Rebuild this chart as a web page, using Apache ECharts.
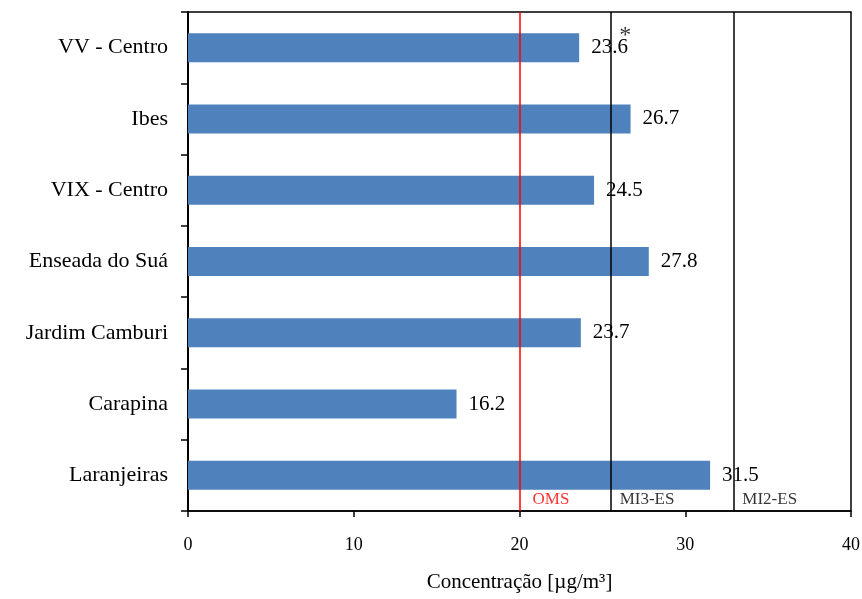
<!DOCTYPE html>
<html><head><meta charset="utf-8">
<script src="https://cdn.jsdelivr.net/npm/echarts@6/dist/echarts.min.js"></script>
<style>html,body{margin:0;padding:0;background:#fff}#c{width:862px;height:599px}</style>
</head><body><div id="c"></div>
<script>
// Data (bottom to top)
const categories = ['Laranjeiras', 'Carapina', 'Jardim Camburi', 'Enseada do Suá', 'VIX - Centro', 'Ibes', 'VV - Centro'];
const values = [31.5, 16.2, 23.7, 27.8, 24.5, 26.7, 23.6];
const xTicks = [0, 10, 20, 30, 40];
const thresholdNames = ['OMS', 'MI3-ES', 'MI2-ES'];
const thresholdValues = [20, 25.5, 32.9];
const thresholdColors = ['#ff0000', '#000000', '#000000'];
const asteriskCategory = 'VV - Centro';
const asteriskText = '*';

const font = '"Liberation Serif","Times New Roman",serif';
const chart = echarts.init(document.getElementById('c'));

const asteriskIdx = categories.indexOf(asteriskCategory);

chart.setOption({
  animation: false,
  grid: { left: 188, right: 11, top: 12, bottom: 88, show: true, borderColor: '#000', borderWidth: 1.5,
          containLabel: false, outerBoundsMode: 'none' },
  xAxis: {
    type: 'value', min: xTicks[0], max: xTicks[xTicks.length - 1], interval: 10,
    splitLine: { show: false },
    axisLine: { show: true, lineStyle: { color: '#000', width: 1.5 } },
    axisTick: { show: true, length: 6, lineStyle: { color: '#000', width: 1.5 } },
    axisLabel: { color: '#000', fontFamily: font, fontSize: 18, margin: 25 },
    name: 'Concentração [µg/m³]', nameLocation: 'middle', nameGap: 61,
    nameTextStyle: { color: '#000', fontFamily: font, fontSize: 21 }
  },
  yAxis: {
    type: 'category', data: categories,
    axisLine: { show: true, lineStyle: { color: '#000', width: 2 } },
    axisTick: { show: true, length: 7, lineStyle: { color: '#000', width: 1.5 } },
    axisLabel: { color: '#000', fontFamily: font, fontSize: 22, margin: 20 }
  },
  series: [
    {
      type: 'bar', data: values, barWidth: 29,
      itemStyle: { color: '#4F81BD' },
      label: { show: true, position: 'right', distance: 12, color: '#000', fontFamily: font, fontSize: 21 },
      markLine: {
        silent: true, symbol: 'none', label: { show: false },
        data: thresholdValues.map((v, i) => ({ xAxis: v, lineStyle: { color: thresholdColors[i], width: 1.5, type: 'solid' } }))
      },
      z: 2
    },
    {
      type: 'scatter', symbolSize: 0, silent: true,
      data: thresholdValues.map((v, i) => ({ value: [v, categories[0]], name: thresholdNames[i],
        label: { color: thresholdColors[i], offset: [i === 0 ? 8 : 4, 24] } })),
      label: { show: true, position: 'right', formatter: p => p.name, fontFamily: font, fontSize: 17 },
      z: 5
    },
    {
      type: 'scatter', symbolSize: 0, silent: true,
      data: [[values[asteriskIdx], asteriskCategory]],
      label: { show: true, position: 'inside', formatter: asteriskText, offset: [46, -12], color: '#000', fontFamily: font, fontSize: 24 },
      z: 5
    }
  ]
});
</script></body></html>
